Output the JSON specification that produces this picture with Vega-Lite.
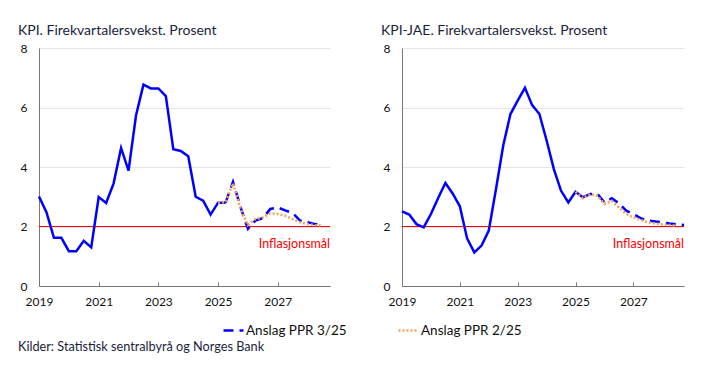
{
  "$schema": "https://vega.github.io/schema/vega-lite/v6.json",
  "padding": {"left": 18, "top": 24, "right": 5, "bottom": 5},
  "background": "white",
  "config": {
    "font": "Lato",
    "view": {"stroke": null},
    "title": {"font": "Lato", "fontSize": 14, "fontWeight": "normal", "color": "#1b1e3c"},
    "axis": {"labelFont": "Lato", "labelFontSize": 12, "labelColor": "#111111", "domainColor": "#777777", "gridColor": "#e4e4e4", "title": null},
    "legend": {"labelFont": "Lato", "labelFontSize": 13.5, "labelColor": "#111111"}
  },
  "data": {"values": [
    {"panel": "KPI", "series": "Historisk", "t": 2019.0, "v": 3.01},
    {"panel": "KPI", "series": "Historisk", "t": 2019.25, "v": 2.48},
    {"panel": "KPI", "series": "Historisk", "t": 2019.5, "v": 1.62},
    {"panel": "KPI", "series": "Historisk", "t": 2019.75, "v": 1.62},
    {"panel": "KPI", "series": "Historisk", "t": 2020.0, "v": 1.17},
    {"panel": "KPI", "series": "Historisk", "t": 2020.25, "v": 1.17},
    {"panel": "KPI", "series": "Historisk", "t": 2020.5, "v": 1.52},
    {"panel": "KPI", "series": "Historisk", "t": 2020.75, "v": 1.30},
    {"panel": "KPI", "series": "Historisk", "t": 2021.0, "v": 2.99},
    {"panel": "KPI", "series": "Historisk", "t": 2021.25, "v": 2.79},
    {"panel": "KPI", "series": "Historisk", "t": 2021.5, "v": 3.45},
    {"panel": "KPI", "series": "Historisk", "t": 2021.75, "v": 4.64},
    {"panel": "KPI", "series": "Historisk", "t": 2022.0, "v": 3.88},
    {"panel": "KPI", "series": "Historisk", "t": 2022.25, "v": 5.73},
    {"panel": "KPI", "series": "Historisk", "t": 2022.5, "v": 6.77},
    {"panel": "KPI", "series": "Historisk", "t": 2022.75, "v": 6.64},
    {"panel": "KPI", "series": "Historisk", "t": 2023.0, "v": 6.64},
    {"panel": "KPI", "series": "Historisk", "t": 2023.25, "v": 6.38},
    {"panel": "KPI", "series": "Historisk", "t": 2023.5, "v": 4.60},
    {"panel": "KPI", "series": "Historisk", "t": 2023.75, "v": 4.54},
    {"panel": "KPI", "series": "Historisk", "t": 2024.0, "v": 4.36},
    {"panel": "KPI", "series": "Historisk", "t": 2024.25, "v": 3.00},
    {"panel": "KPI", "series": "Historisk", "t": 2024.5, "v": 2.87},
    {"panel": "KPI", "series": "Historisk", "t": 2024.75, "v": 2.40},
    {"panel": "KPI", "series": "Historisk", "t": 2025.0, "v": 2.80},
    {"panel": "KPI", "series": "Historisk", "t": 2025.25, "v": 2.80},
    {"panel": "KPI", "series": "Anslag PPR 3/25", "t": 2025.25, "v": 2.80},
    {"panel": "KPI", "series": "Anslag PPR 3/25", "t": 2025.5, "v": 3.50},
    {"panel": "KPI", "series": "Anslag PPR 3/25", "t": 2025.75, "v": 2.66},
    {"panel": "KPI", "series": "Anslag PPR 3/25", "t": 2026.0, "v": 1.92},
    {"panel": "KPI", "series": "Anslag PPR 3/25", "t": 2026.25, "v": 2.20},
    {"panel": "KPI", "series": "Anslag PPR 3/25", "t": 2026.5, "v": 2.28},
    {"panel": "KPI", "series": "Anslag PPR 3/25", "t": 2026.75, "v": 2.59},
    {"panel": "KPI", "series": "Anslag PPR 3/25", "t": 2027.0, "v": 2.64},
    {"panel": "KPI", "series": "Anslag PPR 3/25", "t": 2027.25, "v": 2.54},
    {"panel": "KPI", "series": "Anslag PPR 3/25", "t": 2027.5, "v": 2.45},
    {"panel": "KPI", "series": "Anslag PPR 3/25", "t": 2027.75, "v": 2.20},
    {"panel": "KPI", "series": "Anslag PPR 3/25", "t": 2028.0, "v": 2.14},
    {"panel": "KPI", "series": "Anslag PPR 3/25", "t": 2028.25, "v": 2.08},
    {"panel": "KPI", "series": "Anslag PPR 3/25", "t": 2028.5, "v": 2.06},
    {"panel": "KPI", "series": "Anslag PPR 2/25", "t": 2025.0, "v": 2.80},
    {"panel": "KPI", "series": "Anslag PPR 2/25", "t": 2025.25, "v": 2.82},
    {"panel": "KPI", "series": "Anslag PPR 2/25", "t": 2025.5, "v": 3.45},
    {"panel": "KPI", "series": "Anslag PPR 2/25", "t": 2025.75, "v": 2.60},
    {"panel": "KPI", "series": "Anslag PPR 2/25", "t": 2026.0, "v": 2.05},
    {"panel": "KPI", "series": "Anslag PPR 2/25", "t": 2026.25, "v": 2.25},
    {"panel": "KPI", "series": "Anslag PPR 2/25", "t": 2026.5, "v": 2.30},
    {"panel": "KPI", "series": "Anslag PPR 2/25", "t": 2026.75, "v": 2.44},
    {"panel": "KPI", "series": "Anslag PPR 2/25", "t": 2027.0, "v": 2.42},
    {"panel": "KPI", "series": "Anslag PPR 2/25", "t": 2027.25, "v": 2.36},
    {"panel": "KPI", "series": "Anslag PPR 2/25", "t": 2027.5, "v": 2.25},
    {"panel": "KPI", "series": "Anslag PPR 2/25", "t": 2027.75, "v": 2.14},
    {"panel": "KPI", "series": "Anslag PPR 2/25", "t": 2028.0, "v": 2.08},
    {"panel": "KPI", "series": "Anslag PPR 2/25", "t": 2028.25, "v": 2.05},
    {"panel": "KPI", "series": "Anslag PPR 2/25", "t": 2028.5, "v": 2.03},
    {"panel": "KPI-JAE", "series": "Historisk", "t": 2019.0, "v": 2.51},
    {"panel": "KPI-JAE", "series": "Historisk", "t": 2019.25, "v": 2.40},
    {"panel": "KPI-JAE", "series": "Historisk", "t": 2019.5, "v": 2.08},
    {"panel": "KPI-JAE", "series": "Historisk", "t": 2019.75, "v": 1.97},
    {"panel": "KPI-JAE", "series": "Historisk", "t": 2020.0, "v": 2.42},
    {"panel": "KPI-JAE", "series": "Historisk", "t": 2020.25, "v": 2.96},
    {"panel": "KPI-JAE", "series": "Historisk", "t": 2020.5, "v": 3.46},
    {"panel": "KPI-JAE", "series": "Historisk", "t": 2020.75, "v": 3.11},
    {"panel": "KPI-JAE", "series": "Historisk", "t": 2021.0, "v": 2.68},
    {"panel": "KPI-JAE", "series": "Historisk", "t": 2021.25, "v": 1.60},
    {"panel": "KPI-JAE", "series": "Historisk", "t": 2021.5, "v": 1.13},
    {"panel": "KPI-JAE", "series": "Historisk", "t": 2021.75, "v": 1.36},
    {"panel": "KPI-JAE", "series": "Historisk", "t": 2022.0, "v": 1.86},
    {"panel": "KPI-JAE", "series": "Historisk", "t": 2022.25, "v": 3.26},
    {"panel": "KPI-JAE", "series": "Historisk", "t": 2022.5, "v": 4.72},
    {"panel": "KPI-JAE", "series": "Historisk", "t": 2022.75, "v": 5.78},
    {"panel": "KPI-JAE", "series": "Historisk", "t": 2023.0, "v": 6.23},
    {"panel": "KPI-JAE", "series": "Historisk", "t": 2023.25, "v": 6.66},
    {"panel": "KPI-JAE", "series": "Historisk", "t": 2023.5, "v": 6.08},
    {"panel": "KPI-JAE", "series": "Historisk", "t": 2023.75, "v": 5.78},
    {"panel": "KPI-JAE", "series": "Historisk", "t": 2024.0, "v": 4.89},
    {"panel": "KPI-JAE", "series": "Historisk", "t": 2024.25, "v": 3.93},
    {"panel": "KPI-JAE", "series": "Historisk", "t": 2024.5, "v": 3.20},
    {"panel": "KPI-JAE", "series": "Historisk", "t": 2024.75, "v": 2.81},
    {"panel": "KPI-JAE", "series": "Historisk", "t": 2025.0, "v": 3.17},
    {"panel": "KPI-JAE", "series": "Historisk", "t": 2025.25, "v": 2.98},
    {"panel": "KPI-JAE", "series": "Anslag PPR 3/25", "t": 2025.25, "v": 2.98},
    {"panel": "KPI-JAE", "series": "Anslag PPR 3/25", "t": 2025.5, "v": 3.09},
    {"panel": "KPI-JAE", "series": "Anslag PPR 3/25", "t": 2025.75, "v": 3.10},
    {"panel": "KPI-JAE", "series": "Anslag PPR 3/25", "t": 2026.0, "v": 2.81},
    {"panel": "KPI-JAE", "series": "Anslag PPR 3/25", "t": 2026.25, "v": 2.95},
    {"panel": "KPI-JAE", "series": "Anslag PPR 3/25", "t": 2026.5, "v": 2.78},
    {"panel": "KPI-JAE", "series": "Anslag PPR 3/25", "t": 2026.75, "v": 2.53},
    {"panel": "KPI-JAE", "series": "Anslag PPR 3/25", "t": 2027.0, "v": 2.42},
    {"panel": "KPI-JAE", "series": "Anslag PPR 3/25", "t": 2027.25, "v": 2.28},
    {"panel": "KPI-JAE", "series": "Anslag PPR 3/25", "t": 2027.5, "v": 2.20},
    {"panel": "KPI-JAE", "series": "Anslag PPR 3/25", "t": 2027.75, "v": 2.17},
    {"panel": "KPI-JAE", "series": "Anslag PPR 3/25", "t": 2028.0, "v": 2.14},
    {"panel": "KPI-JAE", "series": "Anslag PPR 3/25", "t": 2028.25, "v": 2.10},
    {"panel": "KPI-JAE", "series": "Anslag PPR 3/25", "t": 2028.5, "v": 2.07},
    {"panel": "KPI-JAE", "series": "Anslag PPR 3/25", "t": 2028.75, "v": 2.05},
    {"panel": "KPI-JAE", "series": "Anslag PPR 2/25", "t": 2025.0, "v": 3.17},
    {"panel": "KPI-JAE", "series": "Anslag PPR 2/25", "t": 2025.25, "v": 2.95},
    {"panel": "KPI-JAE", "series": "Anslag PPR 2/25", "t": 2025.5, "v": 3.09},
    {"panel": "KPI-JAE", "series": "Anslag PPR 2/25", "t": 2025.75, "v": 3.03},
    {"panel": "KPI-JAE", "series": "Anslag PPR 2/25", "t": 2026.0, "v": 2.76},
    {"panel": "KPI-JAE", "series": "Anslag PPR 2/25", "t": 2026.25, "v": 2.86},
    {"panel": "KPI-JAE", "series": "Anslag PPR 2/25", "t": 2026.5, "v": 2.64},
    {"panel": "KPI-JAE", "series": "Anslag PPR 2/25", "t": 2026.75, "v": 2.42},
    {"panel": "KPI-JAE", "series": "Anslag PPR 2/25", "t": 2027.0, "v": 2.31},
    {"panel": "KPI-JAE", "series": "Anslag PPR 2/25", "t": 2027.25, "v": 2.22},
    {"panel": "KPI-JAE", "series": "Anslag PPR 2/25", "t": 2027.5, "v": 2.14},
    {"panel": "KPI-JAE", "series": "Anslag PPR 2/25", "t": 2027.75, "v": 2.10},
    {"panel": "KPI-JAE", "series": "Anslag PPR 2/25", "t": 2028.0, "v": 2.07},
    {"panel": "KPI-JAE", "series": "Anslag PPR 2/25", "t": 2028.25, "v": 2.05},
    {"panel": "KPI-JAE", "series": "Anslag PPR 2/25", "t": 2028.5, "v": 2.03}
  ]},
  "title": {"text": "Kilder: Statistisk sentralbyrå og Norges Bank", "orient": "bottom", "anchor": "start", "frame": "bounds", "fontSize": 12.7, "color": "#1b1e3c", "offset": 4},
  "spacing": 50,
  "resolve": {"scale": {"color": "shared", "strokeDash": "shared"}},
  "hconcat": [
    {
      "width": 291, "height": 238,
      "title": {"text": "KPI. Firekvartalersvekst. Prosent", "anchor": "start", "frame": "group", "dx": -21},
      "transform": [{"filter": "datum.panel === 'KPI'"}],
      "encoding": {
        "x": {"field": "t", "type": "quantitative", "scale": {"domain": [2019, 2028.75], "nice": false, "zero": false},
              "axis": {"values": [2019, 2021, 2023, 2025, 2027], "format": "d", "grid": false, "tickSize": -4, "tickColor": "#777777", "labelPadding": 14, "labelFlush": false}},
        "y": {"field": "v", "type": "quantitative", "scale": {"domain": [0, 8], "nice": false},
              "axis": {"values": [0, 2, 4, 6, 8], "ticks": false, "labelPadding": 12}}
      },
      "layer": [
        {"data": {"values": [{"panel": "KPI", "target": 2}]},
         "mark": {"type": "rule", "color": "#ff0000", "strokeWidth": 1},
         "encoding": {"x": null, "y": {"field": "target", "type": "quantitative"}}},
        {"transform": [{"filter": "datum.series === 'Historisk'"}], "mark": {"type": "line", "color": "#0000ff", "strokeWidth": 2.5}},
        {"transform": [{"filter": "datum.series !== 'Historisk'"}], "mark": {"type": "line", "strokeWidth": 2.5},
         "encoding": {
           "color": {"field": "series", "type": "nominal", "scale": {"domain": ["Anslag PPR 3/25", "Anslag PPR 2/25"], "range": ["#0000ff", "#f4a259"]}, "legend": {"title": null, "orient": "none", "legendX": 183, "legendY": 271, "direction": "horizontal", "symbolType": "stroke", "symbolSize": 400, "symbolStrokeWidth": 2.5, "columnPadding": 46, "labelOffset": 1}},
           "strokeDash": {"field": "series", "type": "nominal", "scale": {"domain": ["Anslag PPR 3/25", "Anslag PPR 2/25"], "range": [[10, 6], [2, 2]]}, "legend": {"title": null, "orient": "none", "legendX": 183, "legendY": 271, "direction": "horizontal", "symbolType": "stroke", "symbolSize": 400, "symbolStrokeWidth": 2.5, "columnPadding": 46, "labelOffset": 1}}
         }},
        {"transform": [{"filter": "datum.series === 'Historisk' && datum.t === 2019"}],
         "mark": {"type": "text", "align": "right", "baseline": "middle", "color": "#ff0000", "fontSize": 12.5, "dy": 17},
         "encoding": {"x": {"datum": 2028.75}, "y": {"datum": 2}, "text": {"value": "Inflasjonsmål"}}}
      ]
    },
    {
      "width": 282, "height": 238,
      "title": {"text": "KPI-JAE. Firekvartalersvekst. Prosent", "anchor": "start", "frame": "group", "dx": -21},
      "transform": [{"filter": "datum.panel === 'KPI-JAE'"}],
      "encoding": {
        "x": {"field": "t", "type": "quantitative", "scale": {"domain": [2019, 2028.75], "nice": false, "zero": false},
              "axis": {"values": [2019, 2021, 2023, 2025, 2027], "format": "d", "grid": false, "tickSize": -4, "tickColor": "#777777", "labelPadding": 14, "labelFlush": false}},
        "y": {"field": "v", "type": "quantitative", "scale": {"domain": [0, 8], "nice": false},
              "axis": {"values": [0, 2, 4, 6, 8], "ticks": false, "labelPadding": 12}}
      },
      "layer": [
        {"data": {"values": [{"panel": "KPI-JAE", "target": 2}]},
         "mark": {"type": "rule", "color": "#ff0000", "strokeWidth": 1},
         "encoding": {"x": null, "y": {"field": "target", "type": "quantitative"}}},
        {"transform": [{"filter": "datum.series === 'Historisk'"}], "mark": {"type": "line", "color": "#0000ff", "strokeWidth": 2.5}},
        {"transform": [{"filter": "datum.series !== 'Historisk'"}], "mark": {"type": "line", "strokeWidth": 2.5},
         "encoding": {
           "color": {"field": "series", "type": "nominal", "scale": {"domain": ["Anslag PPR 3/25", "Anslag PPR 2/25"], "range": ["#0000ff", "#f4a259"]}},
           "strokeDash": {"field": "series", "type": "nominal", "scale": {"domain": ["Anslag PPR 3/25", "Anslag PPR 2/25"], "range": [[10, 6], [2, 2]]}}
         }},
        {"transform": [{"filter": "datum.series === 'Historisk' && datum.t === 2019"}],
         "mark": {"type": "text", "align": "right", "baseline": "middle", "color": "#ff0000", "fontSize": 12.5, "dy": 17},
         "encoding": {"x": {"datum": 2028.75}, "y": {"datum": 2}, "text": {"value": "Inflasjonsmål"}}}
      ]
    }
  ]
}
